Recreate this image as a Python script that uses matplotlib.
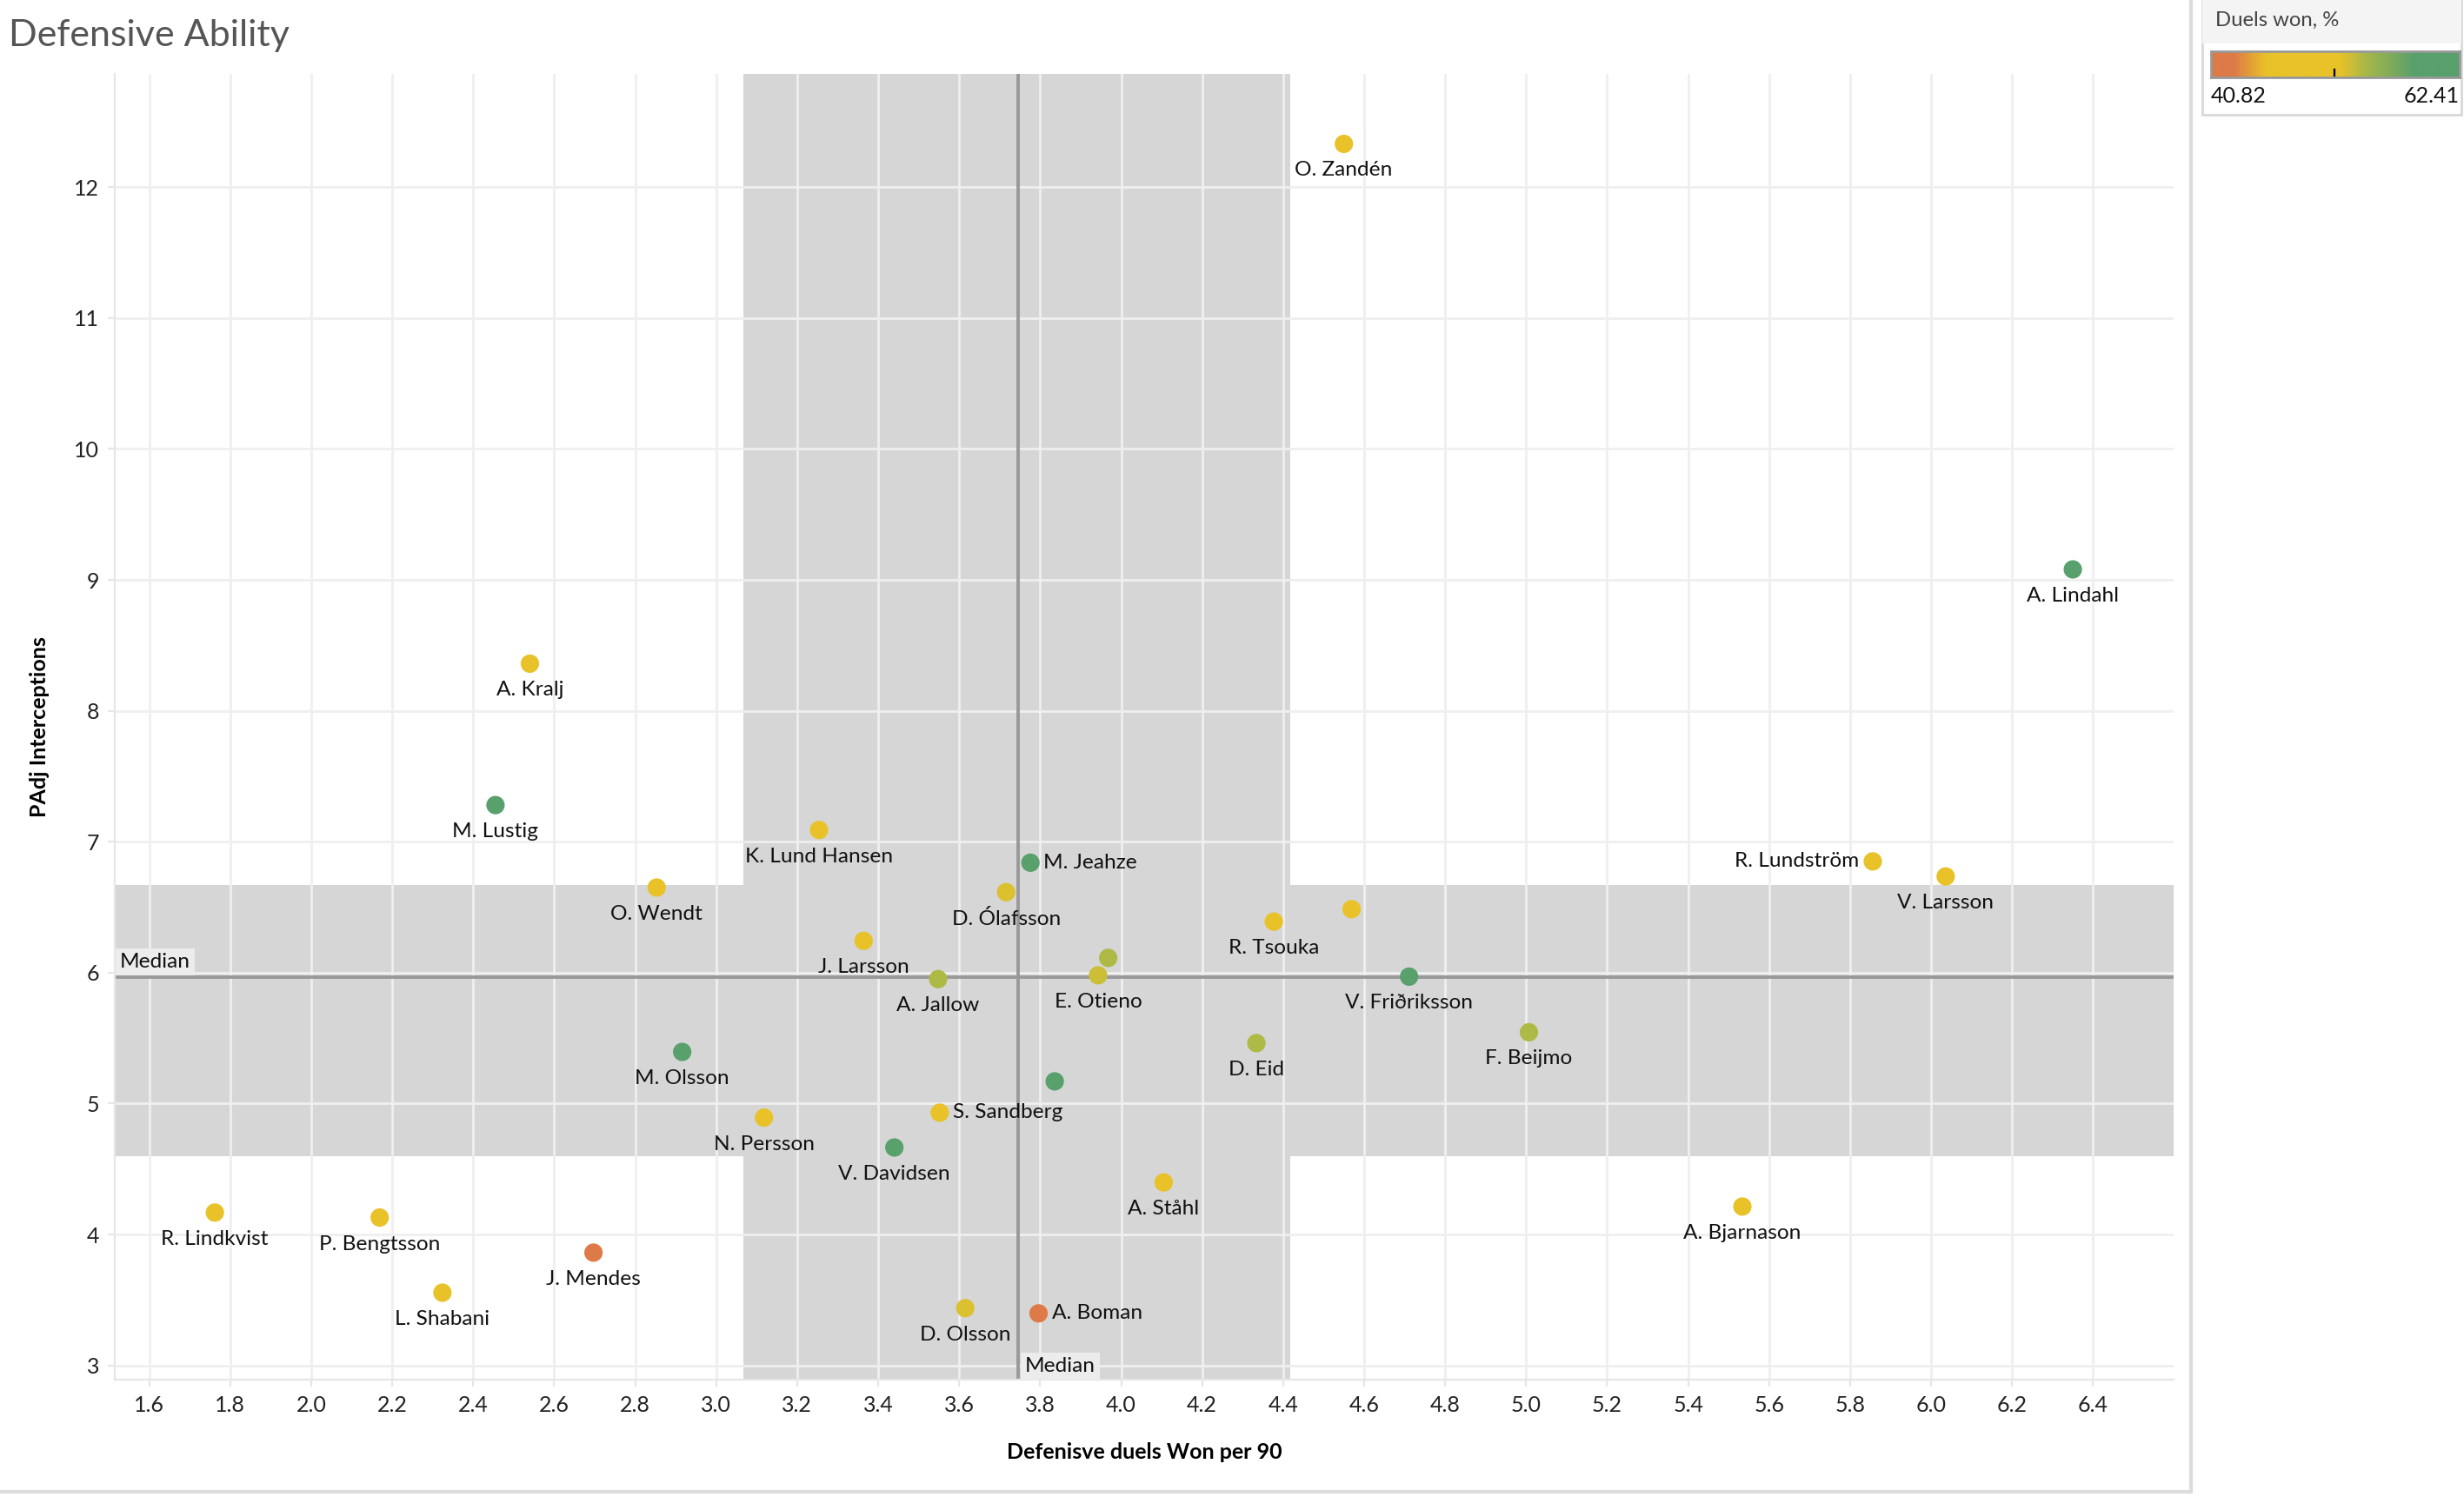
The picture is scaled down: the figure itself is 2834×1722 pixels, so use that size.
import matplotlib
matplotlib.use('Agg')
import matplotlib.pyplot as plt
import numpy as np
from matplotlib.colors import LinearSegmentedColormap, Normalize
from matplotlib.patches import Rectangle
from matplotlib.lines import Line2D

plt.rcParams['font.family'] = ['Lato', 'DejaVu Sans']

# player data
players = ['O. Zandén', 'A. Lindahl', 'A. Kralj', 'M. Lustig', 'K. Lund Hansen',
           'M. Jeahze', 'R. Lundström', 'V. Larsson', 'O. Wendt', 'D. Ólafsson',
           'R. Tsouka', '', 'J. Larsson', 'A. Jallow', 'E. Otieno', '',
           'V. Friðriksson', 'F. Beijmo', 'D. Eid', 'M. Olsson', '',
           'S. Sandberg', 'N. Persson', 'V. Davidsen', 'A. Ståhl', 'A. Bjarnason',
           'R. Lindkvist', 'P. Bengtsson', 'J. Mendes', 'L. Shabani', 'D. Olsson',
           'A. Boman']
duels_won_p90 = [4.55, 6.35, 2.54, 2.455, 3.254,
                 3.776, 5.856, 6.036, 2.853, 3.716,
                 4.377, 4.569, 3.364, 3.548, 3.943, 3.968,
                 4.711, 5.007, 4.334, 2.916, 3.836,
                 3.552, 3.118, 3.44, 4.105, 5.534,
                 1.762, 2.169, 2.697, 2.324, 3.615,
                 3.796]
padj_interceptions = [12.33, 9.08, 8.36, 7.28, 7.09,
                      6.84, 6.85, 6.735, 6.65, 6.615,
                      6.39, 6.485, 6.243, 5.951, 5.98, 6.113,
                      5.97, 5.545, 5.462, 5.395, 5.17,
                      4.931, 4.893, 4.665, 4.398, 4.214,
                      4.168, 4.13, 3.862, 3.556, 3.438,
                      3.398]
duels_won_pct = [48, 60, 47, 60, 48,
                 60, 48, 48, 48, 52.5,
                 48, 49, 48, 54, 53, 54,
                 62, 54, 54, 60, 60,
                 48, 48, 60, 48, 48,
                 48, 48, 41.5, 48, 52.5,
                 41.5]
label_side = ['b', 'b', 'b', 'b', 'b',
              'r', 'l', 'b', 'b', 'b',
              'b', 'b', 'b', 'b', 'b', 'b',
              'b', 'b', 'b', 'b', 'b',
              'r', 'b', 'b', 'b', 'b',
              'b', 'b', 'b', 'b', 'b',
              'r']

median_x = 3.745
median_y = 5.965
band_x = (3.067, 4.418)
band_y = (4.598, 6.668)
pct_min, pct_max = 40.82, 62.41

cmap = LinearSegmentedColormap.from_list('duels', [
    (0.0, '#dd7a48'), (0.09, '#dd7a48'), (0.22, '#e8c228'), (0.52, '#e8c228'),
    (0.62, '#aab848'), (0.82, '#58a06c'), (1.0, '#58a06c')])
norm = Normalize(pct_min, pct_max)

fig = plt.figure(figsize=(14.17, 8.61), dpi=200)
ax = fig.add_axes([0.0466, 0.0784, 0.8354, 0.8722])

ax.axvspan(band_x[0], band_x[1], color='#d6d6d6', lw=0, zorder=0.2)
ax.axhspan(band_y[0], band_y[1], color='#d6d6d6', lw=0, zorder=0.2)
ax.set_axisbelow(True)
ax.grid(True, color='#efefef', lw=1.0)

ax.axvline(median_x, color='#999999', lw=1.4, zorder=2)
ax.axhline(median_y, color='#999999', lw=1.4, zorder=2)

ax.scatter(duels_won_p90, padj_interceptions, c=duels_won_pct, cmap=cmap, norm=norm,
           s=58, lw=0, zorder=3)

for name, x, y, side in zip(players, duels_won_p90, padj_interceptions, label_side):
    if not name:
        continue
    if side == 'b':
        ax.annotate(name, (x, y), xytext=(0, -7.2), textcoords='offset points',
                    ha='center', va='top', fontsize=8.8, color='#111111', zorder=4)
    elif side == 'r':
        ax.annotate(name, (x, y), xytext=(5.5, 0), textcoords='offset points',
                    ha='left', va='center', fontsize=8.8, color='#111111', zorder=4)
    else:
        ax.annotate(name, (x, y), xytext=(-5.5, 0), textcoords='offset points',
                    ha='right', va='center', fontsize=8.8, color='#111111', zorder=4)

box = dict(boxstyle='square,pad=0.2', facecolor='#ececec', edgecolor='none')
ax.text(1.527, median_y + 0.05, 'Median', ha='left', va='bottom', fontsize=8.8,
        color='#111111', bbox=box, zorder=4)
ax.text(median_x + 0.017, 2.925, 'Median', ha='left', va='bottom', fontsize=8.8,
        color='#111111', bbox=box, zorder=4)

ax.set_xlim(1.515, 6.598)
ax.set_ylim(2.892, 12.864)
ax.set_xticks(np.arange(1.6, 6.41, 0.2))
ax.set_xticklabels(['%.1f' % v for v in np.arange(1.6, 6.41, 0.2)])
ax.set_yticks(range(3, 13))
ax.tick_params(length=3, color='#e6e6e6', labelsize=9, labelcolor='#222222')
for s in ['top', 'right']:
    ax.spines[s].set_visible(False)
for s in ['left', 'bottom']:
    ax.spines[s].set_color('#e6e6e6')
    ax.spines[s].set_linewidth(0.8)

ax.set_xlabel('Defenisve duels Won per 90', fontsize=9, fontweight='bold', labelpad=11)
ax.set_ylabel('PAdj Interceptions', fontsize=9, fontweight='bold', labelpad=10)

fig.text(0.0036, 0.976, 'Defensive Ability', fontsize=15.5, color='#555555',
         ha='left', va='center')

# dashboard borders
fig.add_artist(Line2D([0.8892, 0.8892], [0.0035, 1.0], color='#dcdcdc', lw=1.5))
fig.add_artist(Line2D([0.0, 0.8892], [0.0035, 0.0035], color='#dcdcdc', lw=1.5))

# colour legend
fig.add_artist(Rectangle((0.8938, 0.9233), 0.105, 0.0767, transform=fig.transFigure,
                         facecolor='white', edgecolor='#d8d8d8', lw=1.0, zorder=-2))
fig.add_artist(Rectangle((0.8938, 0.971), 0.105, 0.029, transform=fig.transFigure,
                         facecolor='#f4f4f4', edgecolor='none', zorder=-1))
fig.text(0.899, 0.9866, 'Duels won, %', fontsize=8.6, color='#444444', ha='left', va='center')
cax = fig.add_axes([0.8973, 0.9483, 0.1009, 0.0174])
cax.set_zorder(5)
cax.imshow(np.linspace(0, 1, 256)[None, :], aspect='auto', cmap=cmap, extent=(0, 1, 0, 1))
cax.set_xticks([])
cax.set_yticks([])
for s in cax.spines.values():
    s.set_color('#999999')
    s.set_linewidth(1.0)
cax.plot([0.497, 0.497], [0.0, 0.3], color='black', lw=0.8)
cax.set_xlim(0, 1)
cax.set_ylim(0, 1)
fig.text(0.8973, 0.936, '%.2f' % pct_min, fontsize=9, ha='left', va='center', color='#111111')
fig.text(0.9982, 0.936, '%.2f' % pct_max, fontsize=9, ha='right', va='center', color='#111111')

fig.savefig('out.png', dpi=200)
